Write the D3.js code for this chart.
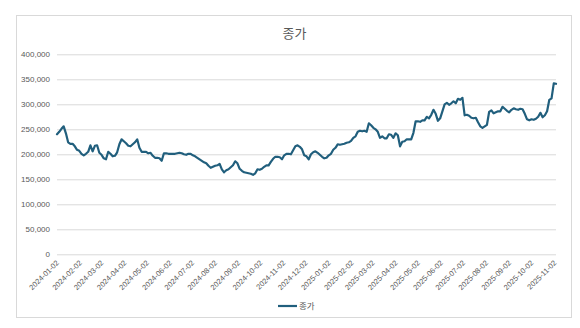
<!DOCTYPE html>
<html>
<head>
<meta charset="utf-8">
<script src="https://cdn.jsdelivr.net/npm/d3@7"></script>
<style>
  body { margin: 0; background: #fff; }
  svg { display: block; }
  text { font-family: "Liberation Sans", Arial, sans-serif; }
</style>
</head>
<body>
<svg id="chart" width="580" height="328"></svg>
<script>
// Closing price series, one close every three calendar days from startDate.
const seriesName = "종가";
const startDate = "2024-01-02";
const stepDays = 3;
const closes = [
  240000, 245000, 251000, 256000, 242000, 224000, 221000, 221000, 216000, 209000,
  207000, 201000, 198000, 201000, 205000, 218000, 206000, 217000, 218000, 203000,
  199000, 192000, 190000, 205000, 201000, 196000, 197000, 204000, 220000, 230000,
  226000, 222000, 217000, 216000, 220000, 224000, 230000, 213000, 205000, 205000,
  205000, 202000, 203000, 197000, 193000, 193000, 192000, 187000, 202000, 202000,
  201000, 201000, 201000, 201000, 202000, 203000, 202000, 200000, 199000, 201000,
  201000, 198000, 196000, 193000, 190000, 187000, 184000, 182000, 177000, 173000,
  175000, 177000, 178000, 181000, 170000, 164000, 168000, 170000, 174000, 178000,
  186000, 182000, 171000, 167000, 164000, 163000, 162000, 161000, 159000, 162000,
  170000, 169000, 171000, 175000, 178000, 178000, 185000, 191000, 195000, 195000,
  194000, 190000, 198000, 201000, 201000, 200000, 208000, 216000, 218000, 215000,
  210000, 198000, 196000, 190000, 200000, 204000, 206000, 203000, 199000, 195000,
  192000, 193000, 198000, 201000, 209000, 213000, 220000, 219000, 220000, 221000,
  223000, 224000, 227000, 233000, 236000, 245000, 247000, 246000, 247000, 245000,
  262000, 258000, 253000, 250000, 245000, 233000, 236000, 232000, 232000, 240000,
  239000, 233000, 242000, 238000, 216000, 225000, 226000, 230000, 230000, 230000,
  243000, 266000, 266000, 265000, 268000, 268000, 275000, 272000, 279000, 289000,
  281000, 267000, 272000, 286000, 300000, 303000, 299000, 302000, 306000, 302000,
  311000, 309000, 313000, 278000, 279000, 277000, 273000, 272000, 273000, 264000,
  256000, 253000, 256000, 259000, 285000, 288000, 282000, 284000, 286000, 286000,
  295000, 291000, 287000, 284000, 289000, 292000, 290000, 289000, 291000, 290000,
  281000, 270000, 268000, 270000, 269000, 271000, 275000, 283000, 274000, 278000,
  286000, 309000, 312000, 342000, 341000
];
const yTicks = [0, 50000, 100000, 150000, 200000, 250000, 300000, 350000, 400000];
const xTickLabels = [
  "2024-01-02", "2024-02-02", "2024-03-02", "2024-04-02", "2024-05-02", "2024-06-02",
  "2024-07-02", "2024-08-02", "2024-09-02", "2024-10-02", "2024-11-02", "2024-12-02",
  "2025-01-02", "2025-02-02", "2025-03-02", "2025-04-02", "2025-05-02", "2025-06-02",
  "2025-07-02", "2025-08-02", "2025-09-02", "2025-10-02", "2025-11-02"
];

const parse = d3.utcParse("%Y-%m-%d");
const t0 = parse(startDate);
const points = closes.map((v, i) => ({ date: d3.utcDay.offset(t0, i * stepDays), value: v }));

const svg = d3.select("#chart");
const lineColor = "#215f7d";
const textColor = "#595959";
const gridColor = "#d9d9d9";

// chart area border
svg.append("rect")
  .attr("x", 16.5).attr("y", 15.5).attr("width", 555).attr("height", 302)
  .attr("fill", "#fff").attr("stroke", gridColor).attr("stroke-width", 1);

// title
svg.append("text")
  .attr("x", 294.5).attr("y", 38)
  .attr("text-anchor", "middle")
  .attr("fill", textColor)
  .style("font-family", "'Noto Sans CJK KR', sans-serif")
  .style("font-size", "13px")
  .text(seriesName);

const x = d3.scaleUtc()
  .domain([t0, points[points.length - 1].date])
  .range([57, 556]);
const y = d3.scaleLinear().domain([0, 400000]).range([254.3, 54.3]);

// horizontal gridlines + y labels
const yAxis = d3.axisLeft(y)
  .tickValues(yTicks)
  .tickSize(-(556 - 57))
  .tickPadding(7)
  .tickFormat(d3.format(","));
const gy = svg.append("g").attr("transform", "translate(57,0)").call(yAxis);
gy.select(".domain").remove();
gy.selectAll(".tick line").attr("stroke", gridColor).attr("stroke-width", 1);
gy.selectAll(".tick text")
  .attr("fill", textColor)
  .style("font-size", "8px")
  .style("font-family", "'Liberation Sans', Arial, sans-serif");

// x axis with rotated month labels
const xTicks = xTickLabels.map(parse);
const xAxis = d3.axisBottom(x)
  .tickValues(xTicks)
  .tickSize(0)
  .tickFormat(d3.utcFormat("%Y-%m-%d"));
const gx = svg.append("g").attr("transform", "translate(0,254.3)").call(xAxis);
gx.select(".domain").remove();
gx.selectAll(".tick text")
  .attr("fill", textColor)
  .style("font-size", "7.5px")
  .style("font-family", "'Liberation Sans', Arial, sans-serif")
  .attr("text-anchor", "end")
  .attr("dy", 0)
  .attr("y", 0)
  .attr("transform", "translate(2,9) rotate(-45)");

// price line
const line = d3.line()
  .x(d => x(d.date))
  .y(d => y(d.value));
svg.append("path")
  .datum(points)
  .attr("fill", "none")
  .attr("stroke", lineColor)
  .attr("stroke-width", 2.2)
  .attr("stroke-linejoin", "round")
  .attr("stroke-linecap", "round")
  .attr("d", line);

// legend
const lg = svg.append("g").attr("transform", "translate(278,306)");
lg.append("line")
  .attr("x1", 0).attr("x2", 19).attr("y1", 0).attr("y2", 0)
  .attr("stroke", lineColor).attr("stroke-width", 2.2);
lg.append("text")
  .attr("x", 21).attr("y", 3)
  .attr("fill", textColor)
  .style("font-family", "'Noto Sans CJK KR', sans-serif")
  .style("font-size", "8.5px")
  .text(seriesName);
</script>
</body>
</html>
